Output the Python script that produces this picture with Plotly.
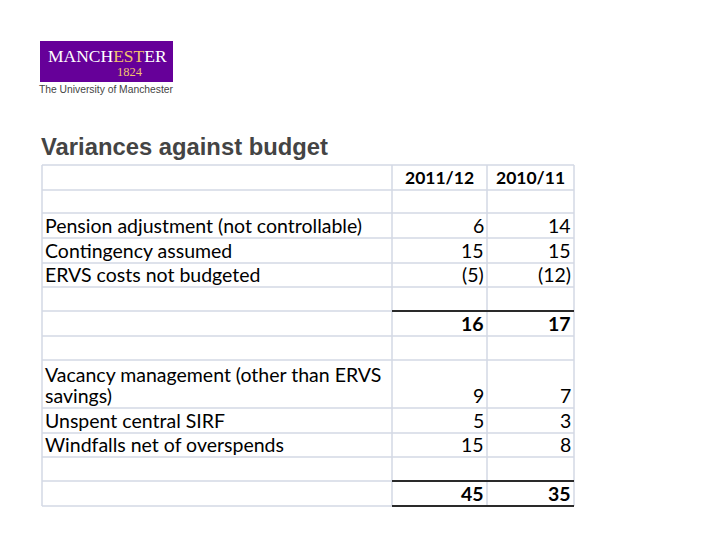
import plotly.graph_objects as go

# ---------------- data ----------------
title_text = "Variances against budget"
col_headers = ["2011/12", "2010/11"]
row_labels = [
    "", "",
    "Pension adjustment (not controllable)",
    "Contingency assumed",
    "ERVS costs not budgeted",
    "", "", "",
    "Vacancy management (other than ERVS<br>savings)",
    "Unspent central SIRF",
    "Windfalls net of overspends",
    "", "",
]
values_2011_12 = [None, None, 6, 15, -5, None, 16, None, 9, 5, 15, None, 45]
values_2010_11 = [None, None, 14, 15, -12, None, 17, None, 7, 3, 8, None, 35]
total_rows = [6, 12]          # rows shown in bold (sub-totals)
rule_above_rows = [6, 12]     # heavy rule above these rows in numeric columns

# ---------------- layout constants ----------------
row_edges = [165, 190, 213, 238, 263, 287, 311, 336, 360, 408, 433, 457, 481, 506]
col_edges = [42, 392, 487, 574]
grid_col = "#d3d9e4"
table_font = "Lato"
fs = 19.5
line_h = 21
OFF = 8  # page body margin compensation


def fmt(v):
    if v is None:
        return ""
    return f"({abs(v)})" if v < 0 else f"{v}"


fig = go.Figure()
shapes = []
annotations = []

# light grid lines
for y in row_edges:
    shapes.append(dict(type="line", xref="x", yref="y", x0=col_edges[0], x1=col_edges[-1],
                       y0=y, y1=y, line=dict(color=grid_col, width=1.5)))
for x in col_edges:
    shapes.append(dict(type="line", xref="x", yref="y", x0=x, x1=x,
                       y0=row_edges[0], y1=row_edges[-1], line=dict(color=grid_col, width=1.5)))

# heavy rules in the numeric columns
heavy_y = [row_edges[r] for r in rule_above_rows] + [row_edges[-1]]
for y in heavy_y:
    shapes.append(dict(type="line", xref="x", yref="y", x0=col_edges[1], x1=col_edges[-1],
                       y0=y, y1=y, line=dict(color="#2a2a2a", width=2)))

# header
for j, h in enumerate(col_headers):
    annotations.append(dict(x=(col_edges[j + 1] + col_edges[j + 2]) / 2, y=row_edges[1],
                            text=f"<b>{h}</b>", showarrow=False, xanchor="center", yanchor="bottom",
                            font=dict(family=table_font, size=17.5, color="#000")))

# body
for i, lab in enumerate(row_labels):
    bottom = row_edges[i + 1]
    if lab:
        lines = lab.split("<br>")
        for k, ln in enumerate(lines):
            yb = bottom + 1 - (len(lines) - 1 - k) * line_h
            annotations.append(dict(x=col_edges[0] + 1, y=yb, text=ln, showarrow=False,
                                    xanchor="left", yanchor="bottom", align="left",
                                    font=dict(family=table_font, size=fs, color="#000")))
    for j, vals in enumerate([values_2011_12, values_2010_11]):
        s = fmt(vals[i])
        if not s:
            continue
        if i in total_rows:
            s = f"<b>{s}</b>"
        annotations.append(dict(x=col_edges[j + 2] - 1, y=bottom + 1, text=s, showarrow=False,
                                xanchor="right", yanchor="bottom",
                                font=dict(family=table_font, size=fs, color="#000")))

# title
annotations.append(dict(x=39, y=162, text=f"<b>{title_text}</b>", showarrow=False,
                        xanchor="left", yanchor="bottom",
                        font=dict(family="Liberation Sans", size=23.8, color="#444")))

# logo
shapes.append(dict(type="rect", xref="x", yref="y", x0=40, x1=173, y0=41, y1=82,
                   fillcolor="#660099", line=dict(width=0), layer="above"))
annotations.append(dict(x=107, y=56, text="MANCH<span style='color:#f2c46d'>EST</span>ER",
                        showarrow=False, xanchor="center", yanchor="middle",
                        font=dict(family="Liberation Serif", size=17.5, color="white")))
annotations.append(dict(x=130, y=72, text="1824", showarrow=False, xanchor="center",
                        yanchor="middle", font=dict(family="Liberation Serif", size=12.5, color="#f2c46d")))
annotations.append(dict(x=106, y=89, text="The University of Manchester", showarrow=False,
                        xanchor="center", yanchor="middle",
                        font=dict(family="Liberation Sans", size=10.3, color="#444")))

fig.update_layout(
    width=720, height=540,
    margin=dict(l=0, r=0, t=0, b=0),
    paper_bgcolor="white", plot_bgcolor="white",
    xaxis=dict(range=[OFF, 720 + OFF], visible=False, fixedrange=True),
    yaxis=dict(range=[540 + OFF, OFF], visible=False, fixedrange=True),
    shapes=shapes, annotations=annotations, showlegend=False,
)
fig.write_html("out.html")
